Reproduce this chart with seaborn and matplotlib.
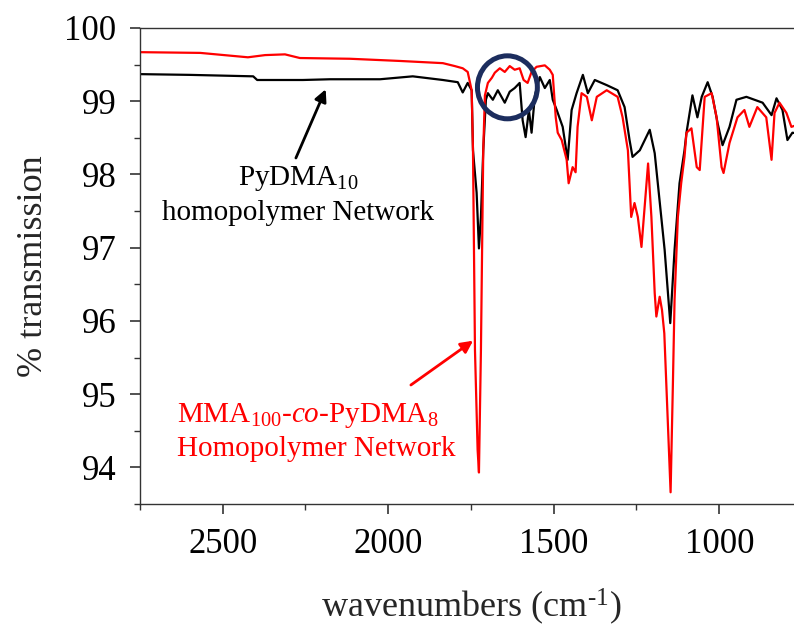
import matplotlib
matplotlib.use("Agg")
import matplotlib.pyplot as plt
import seaborn as sns
import pandas as pd
from matplotlib.patches import Ellipse
from matplotlib.ticker import MultipleLocator, FormatStrFormatter

# ---------------- data ----------------
black_wn = [2750, 2600, 2408, 2396, 2258, 2176, 2025, 1926, 1835, 1790,
            1775, 1760, 1748, 1744, 1733, 1726, 1720, 1713, 1705, 1699,
            1684, 1669, 1648, 1633, 1618, 1603, 1594, 1585, 1575, 1567,
            1557, 1542, 1527, 1512, 1503, 1491, 1473, 1458, 1446, 1431,
            1412, 1397, 1376, 1340, 1307, 1286, 1271, 1262, 1240, 1210,
            1195, 1165, 1148, 1135, 1120, 1105, 1099, 1081, 1066, 1053,
            1035, 1020, 1005, 990, 969, 948, 918, 869, 842, 827,
            809, 794, 779, 750]
black_t = [99.37, 99.36, 99.34, 99.29, 99.29, 99.30, 99.30, 99.34, 99.29, 99.26,
           99.12, 99.25, 99.15, 98.33, 97.75, 96.99, 97.42, 98.33, 99.02, 99.11,
           99.02, 99.15, 98.98, 99.13, 99.18, 99.25, 98.74, 98.51, 98.88, 98.57,
           99.08, 99.33, 99.18, 99.29, 99.02, 98.88, 98.65, 98.20, 98.88, 99.11,
           99.36, 99.11, 99.29, 99.22, 99.15, 98.92, 98.47, 98.24, 98.33, 98.61,
           98.29, 96.97, 95.97, 96.97, 97.88, 98.33, 98.57, 99.08, 98.78, 99.06,
           99.26, 99.06, 98.70, 98.40, 98.65, 99.02, 99.06, 98.98, 98.81, 99.04,
           98.88, 98.47, 98.57, 98.55]

red_wn = [2750, 2568, 2424, 2372, 2312, 2267, 2116, 1965, 1835, 1799,
          1775, 1760, 1748, 1744, 1738, 1730, 1726, 1720, 1713, 1708,
          1699, 1687, 1678, 1663, 1648, 1633, 1618, 1603, 1591, 1579,
          1567, 1552, 1527, 1512, 1503, 1494, 1488, 1476, 1461, 1455,
          1443, 1434, 1428, 1416, 1400, 1385, 1370, 1340, 1307, 1292,
          1276, 1266, 1256, 1246, 1235, 1215, 1205, 1195, 1190, 1180,
          1173, 1166, 1156, 1147, 1140, 1135, 1125, 1115, 1105, 1099,
          1084, 1068, 1059, 1044, 1023, 1008, 993, 987, 969, 945,
          924, 909, 885, 858, 842, 833, 818, 797, 782, 750]
red_t = [99.67, 99.66, 99.60, 99.63, 99.64, 99.59, 99.58, 99.55, 99.52, 99.48,
         99.45, 99.40, 99.15, 98.33, 95.60, 94.24, 93.93, 95.60, 98.33, 99.08,
         99.25, 99.32, 99.39, 99.45, 99.40, 99.48, 99.43, 99.45, 99.29, 99.25,
         99.40, 99.47, 99.49, 99.43, 99.36, 98.78, 98.57, 98.47, 98.20, 97.88,
         98.10, 98.03, 98.65, 99.11, 99.06, 98.74, 99.06, 99.15, 99.06, 98.78,
         98.33, 97.42, 97.61, 97.42, 97.01, 98.15, 97.42, 96.38, 96.06, 96.33,
         96.15, 95.83, 94.69, 93.66, 95.15, 96.29, 97.42, 97.88, 98.24, 98.57,
         98.63, 98.10, 98.06, 99.06, 99.11, 98.78, 98.10, 98.02, 98.43, 98.78,
         98.88, 98.65, 98.92, 98.78, 98.20, 98.84, 98.98, 98.84, 98.65, 98.70]

x_ticks = [2500, 2000, 1500, 1000]
y_ticks = [94, 95, 96, 97, 98, 99, 100]

# ---------------- style ----------------
sns.set_style("ticks")
plt.rcParams["font.family"] = ["Liberation Serif", "DejaVu Serif"]
plt.rcParams["mathtext.fontset"] = "custom"
plt.rcParams["mathtext.rm"] = "Liberation Serif"
plt.rcParams["mathtext.it"] = "Liberation Serif:italic"
plt.rcParams["mathtext.bf"] = "Liberation Serif:bold"

fig = plt.figure(figsize=(7.94, 6.28), dpi=100)
ax = fig.add_axes([140 / 794, 124 / 628, 662 / 794, 476 / 628])

df_black = pd.DataFrame({"wn": black_wn, "t": black_t})
df_red = pd.DataFrame({"wn": red_wn, "t": red_t})
sns.lineplot(data=df_black, x="wn", y="t", color="black", lw=1.6,
             estimator=None, sort=False, ax=ax)
sns.lineplot(data=df_red, x="wn", y="t", color="#ff0000", lw=1.6,
             estimator=None, sort=False, ax=ax)

ax.set_xlim(2750, 750)
ax.set_ylim(93.5, 100)
ax.set_xticks(x_ticks)
ax.set_yticks(y_ticks)
ax.xaxis.set_minor_locator(MultipleLocator(250))
ax.yaxis.set_minor_locator(MultipleLocator(0.5))
ax.xaxis.set_major_formatter(FormatStrFormatter("%d"))
ax.yaxis.set_major_formatter(FormatStrFormatter("%d"))

spine_c = "#333333"
for side in ["left", "bottom", "top"]:
    ax.spines[side].set_color(spine_c)
    ax.spines[side].set_linewidth(1.0)
ax.spines["right"].set_visible(False)
ax.tick_params(which="major", direction="out", length=7, width=1.2,
               color=spine_c, labelsize=25, pad=10, labelcolor="black")
ax.tick_params(which="minor", direction="out", length=4, width=1.0,
               color=spine_c)
ax.tick_params(top=False, right=False, which="both")

ax.set_xlabel("wavenumbers (cm$^{\u2010\mathregular{1}}$)", fontsize=26, labelpad=19)
ax.set_ylabel("% transmission", fontsize=26, labelpad=10)

# ---------------- annotations ----------------
ax.annotate("", xy=(2189, 99.163), xytext=(2279, 98.225),
            arrowprops=dict(arrowstyle="-|>", color="black", lw=2,
                            mutation_scale=18, shrinkA=0, shrinkB=0))
ax.annotate("", xy=(1743.6, 95.73), xytext=(1931.6, 95.125),
            arrowprops=dict(arrowstyle="-|>", color="#ff0000", lw=2,
                            mutation_scale=18, shrinkA=0, shrinkB=0))

ax.text(2273, 97.856, "PyDMA$_{10}$", ha="center", va="baseline",
        fontsize=21, color="black")
ax.text(2273, 97.378, "homopolymer Network", ha="center", va="baseline",
        fontsize=21, color="black")
ax.text(2638, 94.624, "MMA$_{100}$-$co$-PyDMA$_{8}$", ha="left",
        va="baseline", fontsize=21, color="#ff0000")
ax.text(2638, 94.155, "Homopolymer Network", ha="left", va="baseline",
        fontsize=21, color="#ff0000")

ax.add_patch(Ellipse((1640, 99.19), width=181, height=0.86, fill=False,
                     edgecolor="#1c2d5e", lw=3.6, zorder=5))

fig.savefig("out.png", dpi=100)
